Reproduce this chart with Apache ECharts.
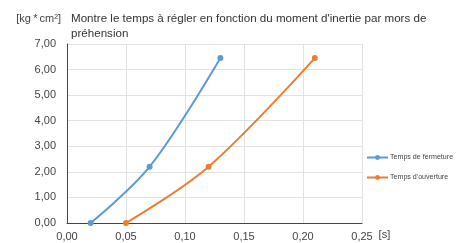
<!DOCTYPE html>
<html>
<head>
<meta charset="utf-8">
<script src="https://cdn.jsdelivr.net/npm/echarts@6/dist/echarts.min.js"></script>
<style>
  html, body { margin: 0; padding: 0; background: #fff; }
  #main { width: 457px; height: 243px; }
</style>
</head>
<body>
<div id="main"></div>
<script>
// values
var closeTime = [0.02, 0.07, 0.13];
var closeInertia = [0, 2.2, 6.45];
var openTime = [0.05, 0.12, 0.21];
var openInertia = [0, 2.2, 6.45];
var seriesNames = ["Temps de fermeture", "Temps d'ouverture"];

function pairs(xs, ys) {
  return xs.map(function (x, i) { return [x, ys[i]]; });
}
function comma(v) {
  return v.toFixed(2).replace(".", ",");
}

var myChart = echarts.init(document.getElementById("main"));
var font = "Liberation Sans";

myChart.setOption({
  animation: false,
  backgroundColor: "#fff",
  textStyle: { fontFamily: font },
  title: {
    text: "Montre le temps à régler en fonction du moment d'inertie par mors de\npréhension",
    left: 66,
    top: 6,
    textStyle: { fontFamily: font, fontSize: 11.6, fontWeight: "normal", color: "#333", lineHeight: 15 }
  },
  legend: {
    orient: "vertical",
    left: 361,
    top: 149,
    itemGap: 13,
    itemWidth: 21,
    itemHeight: 6,
    textStyle: { fontSize: 7.1, color: "#444", padding: [0, 0, 0, -3] },
    data: seriesNames
  },
  grid: { left: 67, right: 95, top: 44, bottom: 20 },
  xAxis: {
    type: "value",
    min: 0,
    max: 0.25,
    interval: 0.05,
    name: "[s]",
    nameLocation: "end",
    nameGap: 10,
    nameTextStyle: { fontSize: 11, color: "#444", verticalAlign: "top", padding: [6, 0, 0, 0] },
    axisLine: { lineStyle: { color: "#444", width: 1 } },
    axisTick: { show: false },
    axisLabel: { fontSize: 11, color: "#444", margin: 8, formatter: comma },
    splitLine: { show: true, lineStyle: { color: "#e2e2e2" } }
  },
  yAxis: {
    type: "value",
    min: 0,
    max: 7,
    interval: 1,
    name: "[kg\u2009*\u2009cm²]",
    nameLocation: "end",
    nameGap: 20,
    nameTextStyle: { fontSize: 11, color: "#444", align: "right", padding: [0, 6, 0, 0] },
    axisLine: { show: true, lineStyle: { color: "#444", width: 1 } },
    axisTick: { show: false },
    axisLabel: { fontSize: 11, color: "#444", margin: 11, formatter: comma },
    splitLine: { show: true, lineStyle: { color: "#e2e2e2" } }
  },
  series: [
    {
      name: seriesNames[0],
      type: "line",
      smooth: 0.35,
      symbol: "circle",
      symbolSize: 6,
      color: "#5b9bd5",
      lineStyle: { width: 2 },
      data: pairs(closeTime, closeInertia)
    },
    {
      name: seriesNames[1],
      type: "line",
      smooth: 0.35,
      symbol: "circle",
      symbolSize: 6,
      color: "#ed7d31",
      lineStyle: { width: 2 },
      data: pairs(openTime, openInertia)
    }
  ]
});
</script>
</body>
</html>
